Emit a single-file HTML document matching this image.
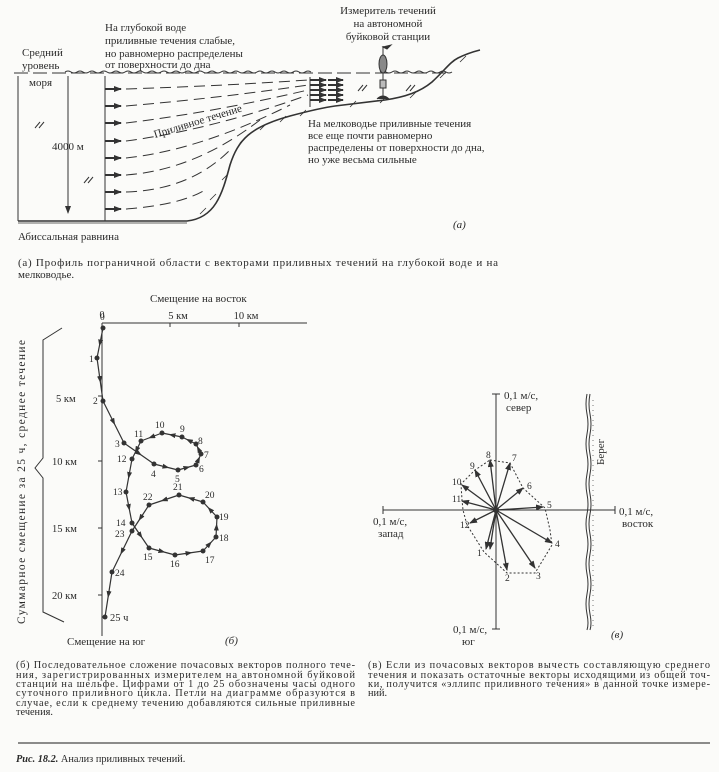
<!DOCTYPE html>
<html><head><meta charset="utf-8"><style>
html,body{margin:0;padding:0;background:#fbfbf9;}
svg{display:block;font-family:"Liberation Serif",serif;}
text{fill:#2a2a2a;}
</style></head><body>
<svg width="719" height="772" viewBox="0 0 719 772" xmlns="http://www.w3.org/2000/svg">
<defs>
<marker id="ah" markerWidth="8" markerHeight="6" refX="7" refY="3" orient="auto" markerUnits="userSpaceOnUse"><path d="M0,0 L8,3 L0,6 Z" fill="#333"/></marker>
<marker id="am" markerWidth="7" markerHeight="5" refX="3.5" refY="2.5" orient="auto" markerUnits="userSpaceOnUse"><path d="M0,0 L7,2.5 L0,5 Z" fill="#333"/></marker>
</defs>
<g stroke="#333" fill="none" stroke-width="1">
<line x1="18" y1="76" x2="18" y2="221"/>
<path d="M14,73 H450" stroke-dasharray="14,5"/>
<path d="M65,72 q3,-2 6,0 t6,0 t6,0 t6,0 t6,0 t6,0 t6,0 t6,0 t6,0 t6,0 t6,0 t6,0 t6,0 t6,0 t6,0 t6,0 t6,0 t6,0 t6,0 t6,0 t6,0 t6,0 t6,0 t6,0 t6,0 t6,0 t6,0 t6,0 t6,0 t6,0 t6,0 t6,0 t6,0 t6,0 t6,0 t6,0 t6,0 t6,0 t6,0 t6,0 t6,0"/>
<path d="M380,72 q3,-2 6,0 t6,0 t6,0 t6,0 t6,0 t6,0 t6,0 t6,0 t6,0 t6,0 t6,0 t6,0"/>
<path d="M18,221 H187 C215,218 222,195 230,165 C238,140 250,127 290,116 C305,112 320,108 335,106 L385,100 C405,97 420,92 432,82 C445,70 450,62 458,58 C466,54 472,52 480,50" stroke-width="1.6"/>
<path d="M18,223 H187 M200,214 l6,-6 M210,200 l6,-6 M222,180 l6,-6 M240,143 l6,-6 M260,130 l6,-6 M280,122 l6,-6 M300,116 l6,-6 M350,107 l6,-6 M380,103 l6,-6 M410,98 l6,-6 M440,78 l6,-6 M460,62 l6,-6" stroke-width="0.8"/>
<line x1="105" y1="76" x2="105" y2="221"/>
<line x1="68" y1="76" x2="68" y2="213" marker-end="url(#ah)"/>
<g stroke-width="2" marker-end="url(#ah)">
<line x1="105" y1="89" x2="121" y2="89"/><line x1="105" y1="106" x2="121" y2="106"/>
<line x1="105" y1="123" x2="121" y2="123"/><line x1="105" y1="141" x2="121" y2="141"/>
<line x1="105" y1="158" x2="121" y2="158"/><line x1="105" y1="175" x2="121" y2="175"/>
<line x1="105" y1="192" x2="121" y2="192"/><line x1="105" y1="209" x2="121" y2="209"/>
<line x1="310" y1="80" x2="326" y2="80"/><line x1="310" y1="85" x2="326" y2="85"/>
<line x1="310" y1="90" x2="326" y2="90"/><line x1="310" y1="95" x2="326" y2="95"/>
<line x1="310" y1="100" x2="326" y2="100"/>
<line x1="328" y1="80" x2="343" y2="80"/><line x1="328" y1="85" x2="343" y2="85"/>
<line x1="328" y1="90" x2="343" y2="90"/><line x1="328" y1="95" x2="343" y2="95"/>
<line x1="328" y1="100" x2="343" y2="100"/>
</g>
<line x1="310" y1="77" x2="310" y2="107"/>
<g stroke-dasharray="11,6">
<path d="M126,89 Q220,86 308,80"/>
<path d="M126,106 Q220,98 308,85"/>
<path d="M126,123 Q215,112 308,90"/>
<path d="M126,141 Q210,130 308,95"/>
<path d="M126,158 Q200,150 290,105"/>
<path d="M126,175 Q195,170 260,120"/>
<path d="M126,192 Q190,190 230,150"/>
<path d="M126,209 Q180,205 205,190"/>
</g>
<path d="M35,128 l5,-6 M39,128 l5,-6 M84,183 l5,-6 M88,183 l5,-6 M358,91 l5,-6 M362,91 l5,-6 M406,91 l5,-6 M410,91 l5,-6"/>
<line x1="383" y1="46" x2="383" y2="98"/>
<path d="M383,47 l8,-2 l-4,4 z" fill="#333"/>
<ellipse cx="383" cy="64" rx="4" ry="9" fill="#888"/>
<rect x="380" y="80" width="6" height="8" fill="#bbb"/>
<path d="M377,99 Q383,93 389,99" fill="#333"/>
<line x1="102" y1="323" x2="307" y2="323"/>
<line x1="102" y1="323" x2="102" y2="636"/>
<line x1="170" y1="323" x2="170" y2="327"/><line x1="239" y1="323" x2="239" y2="327"/>
<line x1="98" y1="396" x2="102" y2="396"/><line x1="98" y1="461" x2="102" y2="461"/>
<line x1="98" y1="528" x2="102" y2="528"/><line x1="98" y1="595" x2="102" y2="595"/>
<path d="M62,328 L43,340 L43,458 L35,468 L43,478 L43,612 L64,622"/>
<g stroke-width="1.2">
<path d="M103,328 L100,343 L97,358" marker-mid="url(#am)"/>
<path d="M97,358 L100,379.5 L103,401" marker-mid="url(#am)"/>
<path d="M103,401 L113.5,422 L124,443" marker-mid="url(#am)"/>
<path d="M124,443 L139,453.5 L154,464" marker-mid="url(#am)"/>
<path d="M154,464 L166,467 L178,470" marker-mid="url(#am)"/>
<path d="M178,470 L187,467.5 L196,465" marker-mid="url(#am)"/>
<path d="M196,465 L198.5,459.5 L201,454" marker-mid="url(#am)"/>
<path d="M201,454 L198.5,449 L196,444" marker-mid="url(#am)"/>
<path d="M196,444 L189,440.5 L182,437" marker-mid="url(#am)"/>
<path d="M182,437 L172,435 L162,433" marker-mid="url(#am)"/>
<path d="M162,433 L151.5,437 L141,441" marker-mid="url(#am)"/>
<path d="M141,441 L136.5,450 L132,459" marker-mid="url(#am)"/>
<path d="M132,459 L129,475.5 L126,492" marker-mid="url(#am)"/>
<path d="M126,492 L129,507.5 L132,523" marker-mid="url(#am)"/>
<path d="M132,523 L140.5,535.5 L149,548" marker-mid="url(#am)"/>
<path d="M149,548 L162,551.5 L175,555" marker-mid="url(#am)"/>
<path d="M175,555 L189,553 L203,551" marker-mid="url(#am)"/>
<path d="M203,551 L209.5,544 L216,537" marker-mid="url(#am)"/>
<path d="M216,537 L216.5,527 L217,517" marker-mid="url(#am)"/>
<path d="M217,517 L210,509.5 L203,502" marker-mid="url(#am)"/>
<path d="M203,502 L191,498.5 L179,495" marker-mid="url(#am)"/>
<path d="M179,495 L164,500 L149,505" marker-mid="url(#am)"/>
<path d="M149,505 L140.5,518 L132,531" marker-mid="url(#am)"/>
<path d="M132,531 L122,551.5 L112,572" marker-mid="url(#am)"/>
<path d="M112,572 L108.5,594.5 L105,617" marker-mid="url(#am)"/>
</g>
<line x1="383" y1="510" x2="615" y2="510"/>
<line x1="383" y1="506" x2="383" y2="514"/><line x1="615" y1="506" x2="615" y2="514"/>
<line x1="496" y1="394" x2="496" y2="629"/>
<line x1="492" y1="394" x2="500" y2="394"/><line x1="492" y1="629" x2="500" y2="629"/>
<path d="M490,460 L510,463 L523,488 L545,508 L550,530 L552,545 L535,573 L507,573 L484,552 L467,525 L463,510 L462,500 L461,484 L475,470 Z" stroke-dasharray="2,2"/>
<g stroke-width="1.3" marker-end="url(#ah)">
<line x1="496" y1="510" x2="486" y2="549"/><line x1="496" y1="510" x2="490" y2="549"/>
<line x1="496" y1="510" x2="507" y2="570"/><line x1="496" y1="510" x2="535" y2="568"/>
<line x1="496" y1="510" x2="552" y2="543"/><line x1="496" y1="510" x2="543" y2="507"/>
<line x1="496" y1="510" x2="523" y2="488"/><line x1="496" y1="510" x2="510" y2="463"/>
<line x1="496" y1="510" x2="490" y2="460"/><line x1="496" y1="510" x2="475" y2="470"/>
<line x1="496" y1="510" x2="462" y2="485"/><line x1="496" y1="510" x2="462" y2="501"/>
<line x1="496" y1="510" x2="470" y2="523"/>
</g>
<path d="M587,394 q-2,10 0,20 t0,20 t0,20 t0,20 t0,20 t0,20 t0,20 t0,20 t0,20 t0,20 t0,20 t0,16"/>
<path d="M590,394 q-2,10 0,20 t0,20 t0,20 t0,20 t0,20 t0,20 t0,20 t0,20 t0,20 t0,20 t0,20 t0,16"/>
<path d="M593,400 V628" stroke-dasharray="1,4" stroke="#777"/>
<line x1="18" y1="743" x2="710" y2="743" stroke="#666" stroke-width="1.5"/>
</g>
<g fill="#333"><circle cx="103" cy="328" r="2.5"/><circle cx="97" cy="358" r="2.5"/><circle cx="103" cy="401" r="2.5"/><circle cx="124" cy="443" r="2.5"/><circle cx="154" cy="464" r="2.5"/><circle cx="178" cy="470" r="2.5"/><circle cx="196" cy="465" r="2.5"/><circle cx="201" cy="454" r="2.5"/><circle cx="196" cy="444" r="2.5"/><circle cx="182" cy="437" r="2.5"/><circle cx="162" cy="433" r="2.5"/><circle cx="141" cy="441" r="2.5"/><circle cx="132" cy="459" r="2.5"/><circle cx="126" cy="492" r="2.5"/><circle cx="132" cy="523" r="2.5"/><circle cx="149" cy="548" r="2.5"/><circle cx="175" cy="555" r="2.5"/><circle cx="203" cy="551" r="2.5"/><circle cx="216" cy="537" r="2.5"/><circle cx="217" cy="517" r="2.5"/><circle cx="203" cy="502" r="2.5"/><circle cx="179" cy="495" r="2.5"/><circle cx="149" cy="505" r="2.5"/><circle cx="132" cy="531" r="2.5"/><circle cx="112" cy="572" r="2.5"/><circle cx="105" cy="617" r="2.5"/><circle cx="496" cy="510" r="3"/></g>

<g font-size="11">
<text x="105" y="31">На глубокой воде</text>
<text x="105" y="44">приливные течения слабые,</text>
<text x="105" y="57">но  равномерно  распределены</text>
<text x="105" y="68">от   поверхности до дна</text>
<text x="22" y="56">Средний</text>
<text x="22" y="69">уровень</text>
<text x="29" y="86">моря</text>
<text x="52" y="150">4000 м</text>
<text x="388" y="14" text-anchor="middle">Измеритель течений</text>
<text x="388" y="27" text-anchor="middle">на автономной</text>
<text x="388" y="40" text-anchor="middle">буйковой станции</text>
<text x="308" y="127">На мелководье приливные течения</text>
<text x="308" y="139">все еще почти равномерно</text>
<text x="308" y="151">распределены от поверхности до дна,</text>
<text x="308" y="163">но уже  весьма сильные</text>
<text x="155" y="138" transform="rotate(-17 155 138)">Приливное течение</text>
<text x="18" y="240">Абиссальная равнина</text>
<text x="453" y="228" font-style="italic">(а)</text>
<text x="150" y="302">Смещение на восток</text>
<text x="102" y="318" text-anchor="middle" font-size="10">0</text>
<text x="178" y="319" text-anchor="middle" font-size="10.5">5 км</text>
<text x="246" y="319" text-anchor="middle" font-size="10.5">10 км</text>
<text x="56" y="402" font-size="10.5">5 км</text>
<text x="52" y="465" font-size="10.5">10 км</text>
<text x="52" y="532" font-size="10.5">15 км</text>
<text x="52" y="599" font-size="10.5">20 км</text>
<text x="67" y="645">Смещение на юг</text>
<text x="225" y="644" font-style="italic">(б)</text>
<text x="25" y="482" transform="rotate(-90 25 482)" text-anchor="middle" font-size="11.5" textLength="284" lengthAdjust="spacing">Суммарное смещение  за 25 ч, среднее  течение</text>
<text x="504" y="399">0,1 м/с,</text>
<text x="506" y="411">север</text>
<text x="619" y="515">0,1 м/с,</text>
<text x="622" y="527">восток</text>
<text x="373" y="525">0,1 м/с,</text>
<text x="378" y="537">запад</text>
<text x="453" y="633">0,1 м/с,</text>
<text x="462" y="645">юг</text>
<text x="611" y="638" font-style="italic">(в)</text>
<text x="604" y="465" transform="rotate(-90 604 465)">Берег</text>
</g>
<g font-size="9.5">
<text x="100" y="320">0</text><text x="89" y="362">1</text><text x="93" y="404">2</text><text x="115" y="447">3</text><text x="151" y="477">4</text><text x="175" y="482">5</text><text x="199" y="472">6</text><text x="204" y="458">7</text><text x="198" y="444">8</text><text x="180" y="432">9</text><text x="155" y="428">10</text><text x="134" y="437">11</text><text x="117" y="462">12</text><text x="113" y="495">13</text><text x="116" y="526">14</text><text x="143" y="560">15</text><text x="170" y="567">16</text><text x="205" y="563">17</text><text x="219" y="541">18</text><text x="219" y="520">19</text><text x="205" y="498">20</text><text x="173" y="490">21</text><text x="143" y="500">22</text><text x="115" y="537">23</text><text x="115" y="576">24</text><text x="110" y="621" font-size="10.5">25 ч</text>
<text x="477" y="556">1</text><text x="505" y="581">2</text><text x="536" y="579">3</text><text x="555" y="547">4</text><text x="547" y="508">5</text><text x="527" y="489">6</text><text x="512" y="461">7</text><text x="486" y="458">8</text><text x="470" y="469">9</text><text x="452" y="485">10</text><text x="452" y="502">11</text><text x="460" y="528">12</text>
</g>
<g font-size="10.3">
<text x="18" y="266" font-size="11" textLength="480" lengthAdjust="spacing">(а) Профиль пограничной области с векторами приливных течений на глубокой воде и на</text>
<text x="18" y="278" font-size="11">мелководье.</text>
<text x="16" y="668" textLength="339" lengthAdjust="spacing">(б) Последовательное сложение почасовых векторов полного тече-</text>
<text x="16" y="678" textLength="339" lengthAdjust="spacing">ния, зарегистрированных измерителем на автономной буйковой</text>
<text x="16" y="687" textLength="339" lengthAdjust="spacing">станции на шельфе. Цифрами от 1 до 25 обозначены часы одного</text>
<text x="16" y="696" textLength="339" lengthAdjust="spacing">суточного приливного цикла. Петли на диаграмме образуются в</text>
<text x="16" y="706" textLength="339" lengthAdjust="spacing">случае, если к среднему течению добавляются сильные приливные</text>
<text x="16" y="715">течения.</text>
<text x="368" y="668" textLength="342" lengthAdjust="spacing">(в) Если из почасовых векторов вычесть составляющую среднего</text>
<text x="368" y="678" textLength="342" lengthAdjust="spacing">течения и показать остаточные векторы исходящими из общей точ-</text>
<text x="368" y="687" textLength="342" lengthAdjust="spacing">ки, получится «эллипс приливного течения» в данной точке измере-</text>
<text x="368" y="696">ний.</text>
<text x="16" y="762"><tspan font-weight="bold" font-style="italic">Рис. 18.2.</tspan> Анализ приливных течений.</text>
</g>
</svg>
</body></html>
